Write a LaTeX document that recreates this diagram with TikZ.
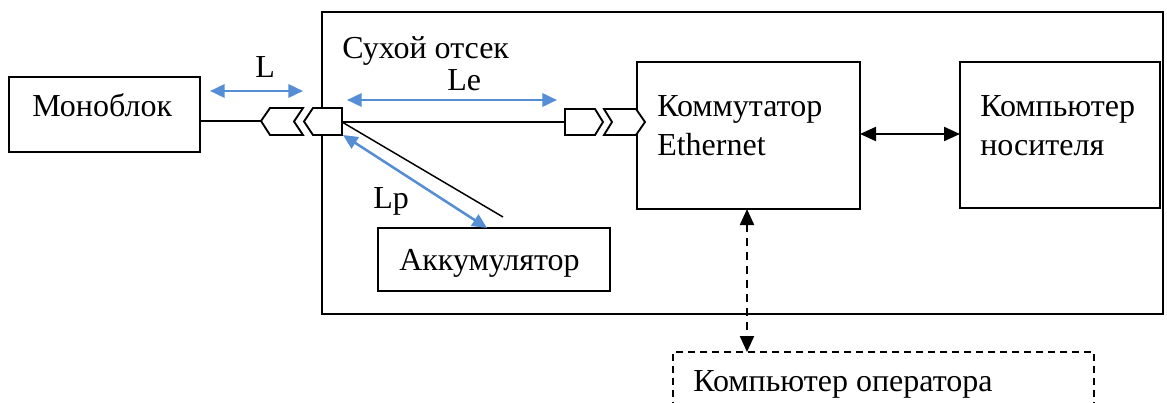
\documentclass[tikz,border=0pt]{standalone}
\usepackage{fontspec}
\setmainfont{Liberation Serif}
\usetikzlibrary{arrows.meta,calc}
\definecolor{arrblue}{RGB}{85,142,213}
\begin{document}
\begin{tikzpicture}[x=0.75pt,y=-0.75pt,
  box/.style={draw,line width=1.4pt,inner sep=0pt,outer sep=0pt,anchor=north west,fill=white},
  dbox/.style={box,dash pattern=on 5pt off 4pt},
  txt/.style={inner sep=0pt,anchor=base west,font=\fontsize{24}{29}\selectfont},
  wire/.style={line width=1.1pt},
  conn/.style={line width=1.4pt,fill=white,line join=miter},
  dim/.style={draw=arrblue,line width=1.9pt,{Triangle[length=11pt,width=10pt]}-{Triangle[length=11pt,width=10pt]}},
  link/.style={line width=1.6pt,{Triangle[length=12pt,width=10.5pt]}-{Triangle[length=12pt,width=10.5pt]}},
  dlink/.style={link,dash pattern=on 6pt off 4.5pt}]
\useasboundingbox (0,0) rectangle (1167,403);
\clip (0,0) rectangle (1167,403);

% boxes
\node[box,minimum width=630.75pt,minimum height=226.5pt] (dry) at (322,12) {};
\node[box,minimum width=143.25pt,minimum height=56.25pt] (mono) at (9,77) {};
\node[box,minimum width=167.25pt,minimum height=110.25pt] (komm) at (637,62) {};
\node[box,minimum width=150pt,minimum height=109.5pt] (komp) at (960,62) {};
\node[box,minimum width=174pt,minimum height=47.25pt] (akk) at (378,228) {};
\node[dbox,minimum width=315.75pt,minimum height=60pt] (oper) at (673,352) {};

% connector points
\coordinate (plugtip) at (261,121);
\coordinate (sockR) at (342,122);
\coordinate (rcL) at (565,122);
\coordinate (akkend) at (503,217);

% wires
\draw[wire] (mono.east |- plugtip) -- (plugtip);
\draw[wire] (sockR) -- (rcL);
\draw[wire] (sockR) -- (akkend);

% connector shapes
\draw[conn] (261,121) -- (270,108) -- (303,108) -- (294,121.5) -- (303,135) -- (270,135) -- cycle;
\draw[conn] (304,121.5) -- (313,108) -- (342,108) -- (342,135) -- (313,135) -- cycle;
\draw[conn] (565,109) -- (595,109) -- (603,122) -- (595,135) -- (565,135) -- cycle;
\draw[conn] (604,109) -- (636,109) -- (645,122) -- (636,135) -- (604,135) -- (612,122) -- cycle;

% dimension arrows
\draw[dim] (210,91) -- (303,91);
\draw[dim] (347,100) -- (557,100);
\draw[dim] (343,135) -- (487,228);

% links
\draw[link] (komm.east |- 0,134) -- (komp.west |- 0,134);
\draw[dlink] (komm.south -| 747,0) -- (oper.north -| 747,0);

% texts
\node[txt] (tdry) at (342,59) {Сухой отсек};
\node[txt] (tmono) at (32,116) {Моноблок};
\node[txt] (tkomm1) at (657,116) {Коммутатор};
\node[txt] (tkomm2) at (657,155) {Ethernet};
\node[txt] (tkomp1) at (980,116) {Компьютер};
\node[txt] (tkomp2) at (980,155) {носителя};
\node[txt] (takk) at (399,270) {Аккумулятор};
\node[txt] (toper) at (693,391) {Компьютер оператора};
\node[txt] (tL) at (255,78) {L};
\node[txt] (tLe) at (447,91) {Le};
\node[txt] (tLp) at (373,208) {Lp};
\end{tikzpicture}
\end{document}
